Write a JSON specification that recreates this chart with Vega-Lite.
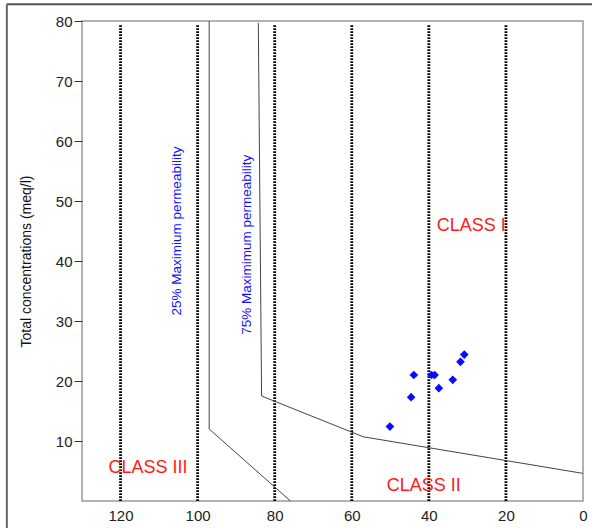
{
  "$schema": "https://vega.github.io/schema/vega-lite/v6.json",
  "width": 501,
  "height": 480,
  "autosize": {"type": "none"},
  "padding": {"left": 82, "top": 21, "right": 9, "bottom": 27},
  "background": "white",
  "config": {
    "font": "Liberation Sans",
    "view": {"stroke": "#9a9a9a", "strokeWidth": 1.5},
    "axis": {"grid": false, "domain": false, "labelFont": "Liberation Sans", "titleFont": "Liberation Sans"}
  },
  "datasets": {
    "samples": [
      {"pi": 30.8, "tc": 24.4},
      {"pi": 31.8, "tc": 23.2},
      {"pi": 43.9, "tc": 21.0},
      {"pi": 39.3, "tc": 21.0},
      {"pi": 38.5, "tc": 21.0},
      {"pi": 33.8, "tc": 20.2},
      {"pi": 37.4, "tc": 18.8},
      {"pi": 44.6, "tc": 17.3},
      {"pi": 50.1, "tc": 12.4}
    ],
    "dotted": [{"pi": 120}, {"pi": 100}, {"pi": 80}, {"pi": 60}, {"pi": 40}, {"pi": 20}],
    "boundaries": [
      {"line": "25%", "o": 1, "pi": 97.0, "tc": 80},
      {"line": "25%", "o": 2, "pi": 97.0, "tc": 12.0},
      {"line": "25%", "o": 3, "pi": 75.9, "tc": 0},
      {"line": "75%", "o": 1, "pi": 84.25, "tc": 79.7},
      {"line": "75%", "o": 2, "pi": 83.4, "tc": 17.5},
      {"line": "75%", "o": 3, "pi": 57.0, "tc": 10.7},
      {"line": "75%", "o": 4, "pi": 0, "tc": 4.6}
    ],
    "permLabels": [
      {"text": "25% Maximium permeability", "pi": 105.4, "tc": 45.0},
      {"text": "75% Maximimum permeability", "pi": 87.3, "tc": 42.7}
    ],
    "classLabels": [
      {"text": "CLASS I", "pi": 29.0, "tc": 45.05},
      {"text": "CLASS II", "pi": 41.3, "tc": 1.72},
      {"text": "CLASS III", "pi": 112.9, "tc": 4.62}
    ]
  },
  "layer": [
    {
      "data": {"name": "dotted"},
      "mark": {"type": "rule", "color": "black", "strokeWidth": 2.8, "strokeDash": [1.8, 1.2]},
      "encoding": {
        "x": {
          "field": "pi", "type": "quantitative",
          "scale": {"domain": [0, 130], "reverse": true, "nice": false, "zero": false},
          "axis": {
            "orient": "bottom", "values": [120, 100, 80, 60, 40, 20, 0], "ticks": false,
            "labelFontSize": 15, "labelColor": "#222", "labelPadding": 7, "labelFlush": false,
            "title": null
          }
        },
        "y": {
          "datum": 0, "type": "quantitative",
          "scale": {"domain": [0, 80], "nice": false, "zero": false},
          "axis": {
            "values": [10, 20, 30, 40, 50, 60, 70, 80], "tickSize": 8, "tickColor": "#333",
            "tickWidth": 1, "labelFontSize": 15, "labelColor": "#222", "labelPadding": 2,
            "labelFlush": false,
            "title": "Total concentrations (meq/l)", "titleFontSize": 14,
            "titleFontWeight": "normal", "titleColor": "#111", "titlePadding": 22
          }
        },
        "y2": {"datum": 79.5}
      }
    },
    {
      "data": {"name": "boundaries"},
      "mark": {"type": "line", "color": "#444", "strokeWidth": 1},
      "encoding": {
        "x": {"field": "pi", "type": "quantitative"},
        "y": {"field": "tc", "type": "quantitative"},
        "detail": {"field": "line"},
        "order": {"field": "o", "type": "quantitative"}
      }
    },
    {
      "data": {"name": "samples"},
      "mark": {"type": "point", "shape": "diamond", "filled": true, "color": "#0a0aff", "opacity": 1, "size": 75},
      "encoding": {
        "x": {"field": "pi", "type": "quantitative"},
        "y": {"field": "tc", "type": "quantitative"}
      }
    },
    {
      "data": {"name": "permLabels"},
      "mark": {"type": "text", "angle": 270, "align": "center", "baseline": "middle", "fontSize": 13.5, "color": "#1010ff", "font": "Liberation Sans"},
      "encoding": {
        "x": {"field": "pi", "type": "quantitative"},
        "y": {"field": "tc", "type": "quantitative"},
        "text": {"field": "text"}
      }
    },
    {
      "data": {"name": "classLabels"},
      "mark": {"type": "text", "align": "center", "baseline": "alphabetic", "fontSize": 18, "color": "#ff1a1a", "font": "Liberation Sans"},
      "encoding": {
        "x": {"field": "pi", "type": "quantitative"},
        "y": {"field": "tc", "type": "quantitative"},
        "text": {"field": "text"}
      }
    },
    {
      "data": {"values": [{}]},
      "mark": {"type": "rule", "color": "#555", "strokeWidth": 2, "clip": false},
      "encoding": {
        "x": {"datum": 149.5, "type": "quantitative"},
        "x2": {"datum": -3},
        "y": {"datum": 82.8, "type": "quantitative"}
      }
    },
    {
      "data": {"values": [{}]},
      "mark": {"type": "rule", "color": "#666", "strokeWidth": 2, "clip": false},
      "encoding": {
        "x": {"datum": 149.5, "type": "quantitative"},
        "y": {"datum": 82.8, "type": "quantitative"},
        "y2": {"datum": -5}
      }
    }
  ]
}
